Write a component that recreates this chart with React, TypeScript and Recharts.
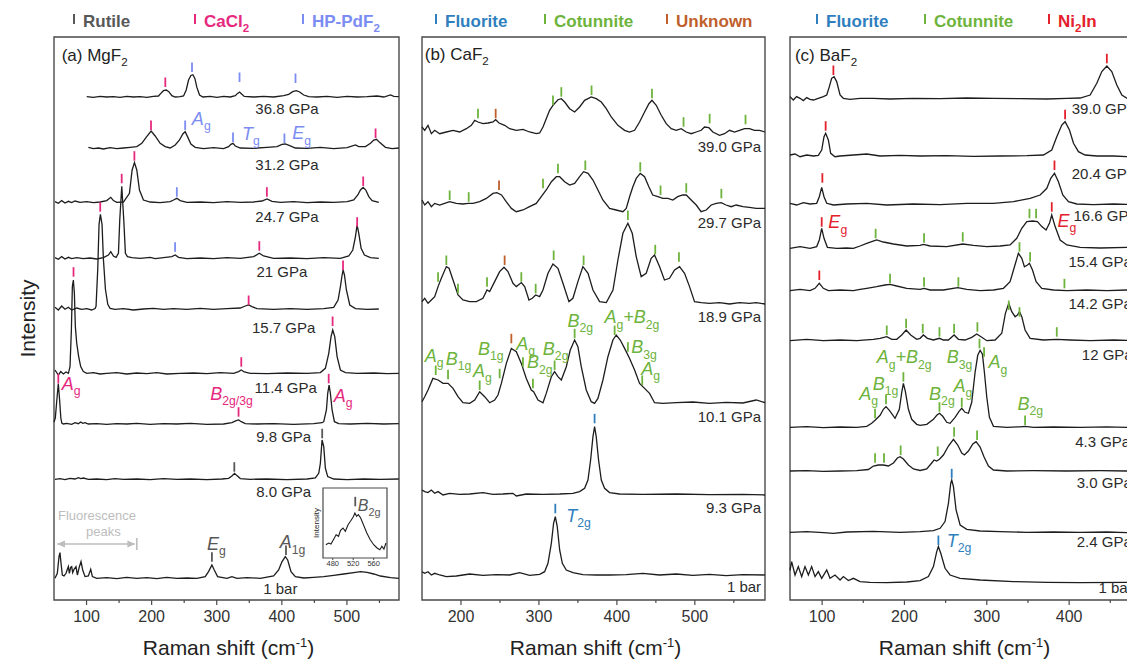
import React from 'react';
import { ComposedChart, Line, Scatter, XAxis, YAxis, ReferenceArea } from 'recharts';

type Pt = [number, number];
type Row = { x: number; v: number };

const FONT = '"Liberation Sans", Arial, Helvetica, sans-serif';
const INK = '#1d1d1d';
const FRAME = '#4a4a4a';
const C = {
  rut: '#585858',
  cacl: '#e6287e',
  hp: '#7b8cf2',
  flu: '#2f7fbe',
  cot: '#6db33c',
  unk: '#bf5f2c',
  ni: '#e4202b',
  fl: '#bdbdbd',
  txt: '#2a2a2a',
};

// ---------- (a) MgF2 ----------
const mgGpa = ['36.8 GPa', '31.2 GPa', '24.7 GPa', '21 GPa', '15.7 GPa', '11.4 GPa', '9.8 GPa', '8.0 GPa', '1 bar'];
const mgBase = [503.3, 451.7, 397.7, 341.7, 290.7, 226.7, 176, 120.7, 21.7];

const mg368: Pt[] = [[100.3,0],[110.5,-0.7],[120.8,0.3],[131,-0.3],[141.3,0],[151.5,-0.7],[161.8,0.3],[172,-0.3],[182.3,0],[192.6,-0.7],[202.8,0.3],[210.5,0.7],[214.1,3.3],[218.2,6],[222.3,6.7],[226.4,5],[231,1],[236.2,-0.3],[243.8,0],[249,0.7],[253.1,6.7],[256.7,16.7],[260.3,21.3],[263.3,22],[266.4,18.3],[269.5,9.3],[273.6,1.7],[278.7,-0.3],[290,0.3],[300.3,-0.7],[310.5,0.3],[320.8,-0.3],[328.5,1],[332.1,3.3],[335.1,4.7],[338.2,2.7],[342.3,0.3],[356.7,-0.3],[372,0.3],[387.4,-0.3],[402.8,1],[410.5,2.3],[416.7,5],[422.3,6],[427.4,4.7],[433.6,1.7],[441.3,0],[454.1,-0.3],[469.5,0.3],[484.9,-0.7],[500.3,0.3],[515.6,-0.3],[531,0],[546.4,0.7],[556.7,-0.3],[566.9,1.7],[572.1,0.3],[579.7,0]];
const mg312: Pt[] = [[102.8,1],[110.5,-0.3],[118.2,0.3],[125.9,-0.7],[136.2,0.7],[146.4,-0.3],[156.7,0.3],[166.9,1],[177.2,1.7],[184.9,5],[191.5,11],[199.2,17.3],[205.4,12.3],[213.1,5],[220.8,1.7],[228.5,0.3],[236.2,3.3],[242.8,8.3],[247.9,14.3],[251.5,16.7],[255.1,11.7],[260.3,4.3],[266.9,1],[279.7,-0.3],[295.1,0.7],[310.5,-0.3],[318.2,1.7],[321.8,4],[324.9,5],[328.5,2.3],[336.2,0.3],[356.7,0],[377.2,1],[392.6,1.7],[400.3,4],[405.4,4.3],[412.1,2.7],[420.8,0.3],[438.7,0],[459.2,1],[479.7,-0.3],[500.3,0.7],[513.1,3.3],[518.2,1.7],[528.5,1.7],[536.2,5],[541.3,8.3],[545.4,9],[550.5,5.7],[559.2,1],[569.5,-0.3],[579.7,0.3]];
const mg247: Pt[] = [[51.5,0.7],[56.7,-1],[61.8,1.7],[66.9,-0.7],[72.1,1],[77.2,-0.3],[82.3,1.3],[90,0],[100.3,0.7],[110.5,-0.3],[120.8,0.3],[131,1.7],[137.2,5],[141.3,1.7],[146.4,0],[156.7,0.3],[165.9,9],[170,32.3],[173.6,39.7],[177.2,32.3],[181.3,12.3],[187.4,2.3],[197.7,0.3],[213.1,-0.3],[228.5,0.7],[233.6,2.3],[238.7,4],[243.8,1.7],[254.1,0],[274.6,0.3],[295.1,-0.3],[315.6,0.7],[336.2,0],[356.7,0.3],[369.5,1.3],[377.2,3.3],[384.9,1],[397.7,0],[418.2,0.7],[438.7,-0.3],[459.2,0.3],[479.7,0],[500.3,0.7],[510.5,2.3],[516.7,7.3],[520.8,12.3],[524.9,15],[529,12.3],[533.6,5.7],[538.7,1.7],[549,0]];
const mg21: Pt[] = [[51.5,0.7],[56.7,-1],[61.8,1.7],[66.9,-0.7],[72.1,1],[77.2,-0.3],[84.9,0.7],[95.1,-0.3],[105.4,0.3],[115.6,-0.7],[125.9,0.7],[133.6,3.3],[137.2,6.7],[141.3,2.3],[145.4,1],[149,5],[151,38],[154.1,72],[157.2,38],[159.7,5],[162.8,1.7],[169.5,0.7],[182.3,0],[197.7,1],[205.4,-0.3],[218.2,0.7],[231,1.7],[236.2,3.3],[241.3,1],[254.1,-0.3],[274.6,0.3],[295.1,-0.3],[315.6,0.7],[336.2,0],[356.7,1.7],[365.4,5],[372,2.3],[387.4,0],[413.1,0.3],[438.7,-0.3],[464.4,0.7],[490,0],[502.8,2.3],[509,8.3],[513.1,21.7],[515.6,33.3],[518.2,25],[521.8,10],[526.9,3.3],[536.2,0.7],[549,0]];
const mg157: Pt[] = [[51.5,2],[56.7,-0.7],[61.8,3.3],[66.9,0],[72.1,2],[77.2,-0.7],[84.9,1.3],[92.6,0],[100.3,0.7],[107.9,-0.7],[113.1,0.7],[114.6,3],[117.2,40],[119.2,85],[121.3,95],[123.8,85],[125.9,50],[129,20],[132.6,5],[136.2,1],[143.8,0],[156.7,0.7],[172,-0.7],[187.4,0.3],[202.8,1],[218.2,0],[233.6,0.7],[254.1,0],[274.6,1],[295.1,0],[315.6,0.7],[336.2,1.3],[343.8,3.3],[349,4.3],[354.1,2.7],[361.8,0.7],[387.4,0],[413.1,0.7],[438.7,0],[464.4,0.7],[479.7,2],[486.4,9.3],[490,22.7],[492.6,34.3],[494.1,39.3],[496.2,34.3],[499.2,19.3],[504.4,4.3],[513.1,0.7],[531,0],[549,0.3]];
const mg114: Pt[] = [[51.5,3.3],[56.7,-1.7],[60.3,1.7],[64.4,-0.7],[68.5,1.3],[72.1,0],[74.6,6.7],[76.7,43.3],[78.2,86.7],[79.7,93.3],[81.3,80],[82.8,46.7],[84.9,30],[87.9,16.7],[91,6.7],[95.1,1.7],[100.3,0],[110.5,0.7],[120.8,-0.7],[131,0],[146.4,0.7],[161.8,-0.7],[177.2,0.3],[192.6,-0.3],[207.9,0.7],[223.3,-0.7],[243.8,0],[264.4,0.3],[284.9,-0.3],[305.4,0.7],[325.9,0],[333.6,1.7],[337.7,3.3],[342.3,1.3],[351.5,0],[377.2,-0.3],[407.9,0.3],[438.7,0],[459.2,0.7],[466.9,5],[472.1,20],[475.6,36.7],[478.2,43.3],[481.3,36.7],[484.9,16.7],[490,3.3],[497.7,0.7],[515.6,0],[541.3,0.3],[561.8,-0.3],[579.7,0]];
const mg98: Pt[] = [[50,2],[52,6],[54.5,25],[56.6,40.5],[58.5,25],[60.5,6],[62,1],[64.4,0],[69.5,0.7],[77.2,-0.3],[82.3,1.3],[87.4,0.3],[91,2],[94.1,0.7],[97.7,1.3],[102.8,0],[115.6,0.3],[131,-0.3],[146.4,0.3],[161.8,0],[177.2,0.7],[197.7,-0.3],[218.2,0.3],[238.7,0],[259.2,0.7],[284.9,-0.3],[310.5,0],[323.3,1.3],[330,3.3],[333.6,4],[337.7,2.3],[343.8,0.3],[361.8,0],[387.4,0.3],[418.2,-0.3],[449,0.3],[461.8,1.3],[464.4,2.3],[468.5,14],[470.5,30.7],[472.6,39],[474.6,30.7],[477.2,14],[480.8,2.3],[487.4,0.3],[505.4,0],[531,0.7],[556.7,0],[579.7,0.3]];
const mg80: Pt[] = [[51.5,0],[59.2,0.7],[66.9,-0.3],[74.6,1],[82.3,0.3],[87.4,1.7],[91,0.7],[95.1,1.3],[102.8,0],[115.6,0.3],[131,-0.3],[143.8,0.7],[156.7,0],[177.2,0.3],[197.7,-0.3],[218.2,0.7],[238.7,0],[259.2,0.3],[284.9,-0.3],[307.9,0.3],[318.2,1],[323.3,3.3],[327.4,6],[331,3.7],[336.2,0.7],[351.5,0],[377.2,0.3],[407.9,-0.3],[438.7,0.3],[451.5,1.3],[456.7,6],[459.2,16],[461.8,39.3],[464.4,32.7],[466.9,11],[470.5,2.7],[479.7,0.3],[500.3,-0.3],[525.9,0.3],[551.5,0],[579.7,0.3]];
const mg1bar: Pt[] = [[51.5,0],[55.1,5],[57.7,21.7],[59.2,25.7],[60.8,15],[62.8,3.3],[65.4,2.3],[68.5,5],[70.5,9],[72.1,11.7],[73.6,5],[75.6,11],[77.2,11.7],[78.7,5.7],[80.8,9],[83.8,11.7],[85.9,3.3],[89,11.7],[91.5,16.7],[94.1,8.3],[97.7,1.7],[102.8,2.3],[106.4,9],[109,1.7],[115.6,0],[131,0.7],[146.4,-0.3],[161.8,1],[177.2,0],[192.6,0.7],[207.9,-0.3],[223.3,1],[238.7,0],[254.1,0.3],[269.5,0],[282.3,1.7],[287.4,6.7],[292.6,13.3],[296.2,8.3],[301.3,1.7],[315.6,0],[323.3,1.7],[331,0],[346.4,0.7],[366.9,0],[387.4,2.3],[395.1,8.3],[400.3,16.7],[405.4,21.7],[409,18.3],[414.1,6.7],[420.8,1.7],[433.6,0.3],[449,1],[464.4,1.7],[479.7,3],[495.1,4.3],[510.5,5.7],[520.8,6.7],[531,6],[541.3,4.3],[551.5,2.3],[566.9,0.7],[579.7,0]];
const mgSpectra = [mg368, mg312, mg247, mg21, mg157, mg114, mg98, mg80, mg1bar];

const mgRutTicks: Pt[] = [[327,128.3],[462,161.7],[292.6,38.3],[406.4,45]];
const mgCaclTicks: Pt[] = [[221,513],[199,470],[544,462],[154,416.7],[173.5,439.3],[377,403.3],[525,414],[121,388.3],[365.4,349.3],[515.7,373.3],[80,323.3],[349,295],[494,330],[56.6,216.7],[337.7,233.3],[478,274],[333.5,183.3],[472,216.7]];
const mgHpTicks: Pt[] = [[262,528],[335,518],[421,517],[251.5,470],[325,458],[404,457],[238.7,403.3],[236,348.3]];

const mgGpaPos: Pt[] = [[408,485.7],[408,430],[408,378.3],[400,322.7],[402.8,266.7],[406,207.3],[402.8,158.3],[402.8,102.7],[397.7,5.7]];
const mgHpModes: [number, number, string][] = [[261.8,475,'A_g'],[339,460,'T_g'],[416,460.7,'E_g']];
const mgCaclModes: [number, number, string][] = [[61.8,210,'A_g'],[290,200,'B_2g/3g'],[479.7,198.3,'A_g']];
const mgRutModes: [number, number, string][] = [[285,50,'E_g'],[396.7,51.7,'A_1g']];
const mgFluoText: [number, number, string][] = [[116,80,'Fluorescence'],[126,64,'peaks']];

// inset of the 1 bar spectrum
const insetPts: Pt[] = [[466.6,13.3],[472,15],[476.6,14],[481.3,18.3],[486.6,23.3],[491.3,21.7],[495.3,27.7],[500,30],[504.6,26.7],[510,33.3],[514.6,36.7],[520,41],[523.3,45],[526.6,41.7],[530,43.3],[534.6,40],[540,33.3],[546.6,25],[553.3,18.3],[560,13.3],[566.6,10],[572,8.3],[576,11.7],[580,9],[584,15]];

// ---------- (b) CaF2 ----------
const caGpa = ['39.0 GPa', '29.7 GPa', '18.9 GPa', '10.1 GPa', '9.3 GPa', '1 bar'];
const caBase = [468, 393.3, 296.7, 197.3, 105.7, 25];

const ca390: Pt[] = [[150,5],[153.5,1.7],[157.7,6.7],[162,-1.7],[166.3,1.7],[172.7,-1.7],[181.2,0],[189.8,1.7],[198.3,0],[206.9,3.3],[213.3,6.7],[217.6,11.7],[221.8,10],[228.2,8.3],[234.7,9],[241.1,10],[244.5,12.3],[248.8,9],[256,6.7],[262.4,3.3],[271,1.7],[279.5,2.7],[288,0],[296.6,-1.7],[300.9,-1],[305.2,5],[309.4,13.3],[313.7,21.7],[318,26.7],[324.4,32.3],[328.7,33.3],[333,30],[339.4,23.3],[345.8,20],[352.2,25],[358.6,31.7],[367.1,35],[373.5,33.3],[380,30],[386.4,23.3],[392.8,15],[401.3,6.7],[409.9,1.7],[416.3,0],[422.7,1.7],[429.1,10],[435.5,20],[441.1,28.3],[445,31.7],[450.5,26.7],[456.9,16.7],[463.3,8.3],[469.7,3.3],[476.1,1.7],[482.5,3.3],[488.9,0],[495.3,-1.7],[501.8,0],[508.2,1.7],[512.4,5],[518,4.3],[523.1,0],[531.7,-3.3],[538.1,-1.7],[544.5,1.7],[550.9,0],[557.3,1.7],[563.7,3.3],[570.1,3.3],[576.5,1.7],[582.9,1.7],[590,0]];
const ca297: Pt[] = [[150,6.7],[153.5,1.7],[157.7,5],[162,0],[166.3,3.3],[172.7,1.7],[179,3.3],[185.5,5],[194,3.3],[202.6,2.7],[209,3.3],[215.4,3.3],[224,5],[232.5,8.3],[241,13.3],[246,14],[252,11.7],[258,5],[264.6,-1.7],[271,-5],[279.5,-3.3],[288,0],[296.6,3.3],[303,10],[309.4,16.7],[316,25],[322.3,30],[326.6,30],[333,25],[339.4,21.7],[345.8,23.3],[352.2,30],[357.3,35],[363,33.3],[369.3,26.7],[375.7,16.7],[382,6.7],[390.6,-1.7],[399,-3.3],[407.7,-5],[412,-1.7],[416.3,10],[420.5,20],[424.8,28.3],[430,33.3],[435.5,30],[441,20],[446,11.7],[452.6,10],[459,8.3],[465.4,8.3],[471.8,6.7],[478,10],[484.6,11.7],[489,11.7],[495.3,6.7],[501.8,1.7],[508,-5],[514.6,-3.3],[521,1.7],[527.4,3.3],[533.8,4],[540,1.7],[546.6,0],[553,1.7],[561.6,0],[570,-0.7],[578.7,-1.7],[590,-1.7]];
const ca189: Pt[] = [[150,1.7],[153.5,5],[157.7,0],[162,3.3],[166.3,6.7],[170.6,16.7],[174.8,25],[181.2,36.7],[184.7,35],[189.8,23.3],[196.2,8.3],[202.6,3.3],[211,1.7],[219.7,1.7],[228.2,5],[233.4,13.3],[236.8,11.7],[243.2,21.7],[249.6,31.7],[255.2,36],[260.3,31.7],[266.7,20],[271,16.7],[277.4,20.7],[281.7,16.7],[287.2,3.3],[291.5,5],[295.8,8.3],[300.9,6.7],[305.2,13.3],[311.6,30],[318,39.3],[324.4,35],[330.8,20],[338.5,1.7],[343.6,5],[350,21.7],[356.4,36.7],[363,30],[369.3,13.3],[377.8,1.7],[386.4,0.7],[395,13.3],[401.3,43.3],[407.7,70],[414.1,80],[419.7,70],[424.8,46.7],[431.2,26.7],[437.6,30],[444,45],[448.3,48.3],[454.7,36.7],[461,23.3],[467.5,25],[474,33.3],[480.4,36.7],[486.8,30],[493.2,16.7],[499.6,1.7],[508.2,0.7],[518.8,0],[531.7,0.7],[544.5,-0.7],[557.3,0.7],[570,0],[578.7,0.7],[590,-0.7]];
const ca101: Pt[] = [[150,1],[153.5,6],[157.7,12.7],[164,24.3],[170.6,22.7],[177,19.3],[183.4,19.3],[189.8,14.3],[196.2,6],[202.6,0],[211.2,-0.7],[217.6,2.7],[224,11],[230.4,6],[236.8,0],[243.2,2.7],[247.5,7.7],[251.8,19.3],[258.2,39.3],[264.6,54.3],[271,51],[277.4,39.3],[283.8,24.3],[290.2,12.7],[293.2,11],[298.8,2.7],[305.2,0],[309.4,9.3],[315.9,26],[320.1,31],[324.4,26],[328.7,22.7],[335.1,36],[340.2,52.7],[345.8,62.7],[350,56],[354.3,36],[360.7,12.7],[367.1,1],[371.4,-0.7],[375.7,4.3],[382.1,22.7],[388.5,46],[394.9,62.7],[399.2,67.7],[404.3,62.7],[409.9,54.3],[416.3,44.3],[422.7,32.7],[429.1,19.3],[435.5,14.3],[441.9,9.3],[448.3,0],[459,-0.7],[476,0],[497.5,0.7],[518.8,-0.7],[540.2,0.3],[561.6,-0.3],[578.7,2.7],[590,0]];
const ca093: Pt[] = [[150,4.3],[153.5,2.7],[157.7,1.7],[162,4.3],[166.3,1],[170.6,2.7],[177,-0.7],[185.5,1],[198.3,0],[211.2,0.3],[228.2,1.7],[241,0],[253.9,0.3],[266.7,1],[271,-1.7],[283.8,0.3],[305.2,0],[326.6,0.3],[343.6,1],[352.2,2.7],[358.6,6],[362.9,14.3],[366.3,34.3],[369.3,57.7],[371.4,67.7],[373.5,57.7],[376.5,34.3],[380,14.3],[384.2,6],[390.6,1.7],[403.4,0.3],[433.4,0],[476.1,0.3],[518.8,-0.3],[561.6,0],[590,-0.7]];
const ca1bar: Pt[] = [[150,3.3],[153.5,1.7],[157.7,3.3],[162,0],[166.3,1.7],[172.7,0],[181.2,-1.7],[194,-1],[211.2,1],[228.2,-0.3],[245.4,0.3],[262.4,0],[275.2,2.3],[288,-0.3],[300.9,0.7],[307.3,3.3],[311.6,11.7],[315.9,31.7],[318.8,51.7],[321,58.3],[323.5,48.3],[326.6,25],[330,11.7],[335.1,5],[343.6,2.3],[356.4,0.3],[373.5,0],[390.6,0],[412,0.3],[433.4,1.7],[454.7,0],[476.1,1],[497.5,-0.3],[518.8,0.7],[540.2,-0.7],[561.6,0.3],[590,0]];
const caSpectra = [ca390, ca297, ca189, ca101, ca093, ca1bar];

const caFluTicks: Pt[] = [[371.4,176.7],[321,86.7]];
const caCotTicks: Pt[] = [[221.8,481.7],[318,495],[328.7,503.3],[367.5,505],[445,501.7],[485.5,473.3],[519,476.7],[565,475.7],[185.5,400],[209.9,398.3],[305.2,411.7],[324.4,426.7],[359.5,430],[430,428.3],[456,405],[489,407.3],[534,401.7],[170.6,318.3],[181.2,335],[196.2,306.7],[233.4,313.3],[277.4,318.3],[295.8,306.7],[318.9,340],[357.3,335],[414.1,380],[449.2,345.7],[479.6,338.3],[167.6,225],[183.4,220.7],[224,210],[249.6,221.7],[279.5,233.3],[292.3,211.7],[320.1,230],[345.8,261.7],[397.1,265],[414.1,248.3],[432.5,215]];
const caUnkTicks: Pt[] = [[244.5,481.7],[248.8,410],[256,335],[264.6,256.7]];

const caGpaPos: Pt[] = [[585,448.3],[585,372],[585,278.3],[585,178.3],[585,87.3],[585,8.3]];
const caCotModes: [number, number, string][] = [[153.5,238.3,'A_g'],[180.4,235,'B_1g'],[221.8,245,'B_1g'],[215.4,223.3,'A_g'],[271,250,'A_g'],[284.7,231.7,'B_2g'],[305,245,'B_2g'],[336.5,273.3,'B_2g'],[384,276.7,'A_g+B_2g'],[418.4,246.7,'B_3g'],[431.2,225,'A_g']];
const caFluModes: [number, number, string][] = [[335,78.3,'T_2g']];

// ---------- (c) BaF2 ----------
const baGpa = ['39.0 GPa', '20.4 GPa', '16.6 GPa', '15.4 GPa', '14.2 GPa', '12 GPa', '4.3 GPa', '3.0 GPa', '2.4 GPa', '1 bar'];
const baBase = [501.7, 444, 396, 352.7, 310, 260, 172.7, 129, 67.7, 17.7];

const ba390: Pt[] = [[61,1.7],[65,-1.7],[69.1,1.7],[73.2,0],[77.2,-2.3],[81.3,0.7],[85.3,-1],[89.4,-1.7],[95.4,0],[101.5,1.7],[105.6,3.3],[108.8,11.7],[111.6,20],[114.5,21.7],[117.7,16.7],[121.8,3.3],[125.8,0],[133.9,-1],[146.1,0],[162.3,0],[182.5,-0.7],[210.9,0],[243.3,-0.3],[275.7,0.3],[308.1,0],[340.5,-0.3],[372.9,-0.7],[397.2,0],[413.4,0.3],[425.5,3.3],[433.6,15],[439.7,26.7],[445.8,32.3],[451.8,26.7],[457.9,13.3],[464,3.3],[470.5,0],[480,0]];
const ba204: Pt[] = [[61,1],[67.1,2],[73.2,-0.7],[81.3,1],[89.4,0],[95.4,0.7],[99.5,6],[102.3,19.3],[104.3,22.7],[107.6,16],[110.4,2.7],[115.7,-0.7],[121.8,0],[138,1],[154.2,2],[170.4,0],[194.7,0.7],[219,0],[251.4,0.3],[283.8,-0.3],[316.2,0],[348.6,0.3],[368.8,1],[378.9,6],[385,19.3],[391.1,31],[395.1,34.3],[400.4,26],[405.3,12.7],[411.3,4.3],[419.4,1],[433.6,0],[453.9,0],[470.5,-0.7],[480,0]];
const ba166: Pt[] = [[61,0.7],[69.1,-1],[77.2,1.3],[85.3,0],[93.4,0.7],[96.6,7.3],[99.5,16.7],[102.3,7.3],[105.6,0.7],[113.7,-1],[129.9,0],[154.2,0.7],[178.5,-1],[210.9,0],[243.3,-0.7],[275.7,0.7],[308.1,0.7],[332.4,2.3],[352.6,5.7],[364.8,9],[372.9,15.7],[377.7,25.7],[382.2,30.7],[387,22.3],[392.3,9],[399.2,2.3],[409.3,0],[429.6,-0.7],[453.9,0],[470.5,-0.3],[480,0]];
const ba154: Pt[] = [[61,-1],[73.2,0.7],[85.3,-1],[93.4,0.7],[96.6,7.3],[99.5,19],[102.3,9],[106.4,0],[117.7,-1],[129.9,-0.7],[138,-1],[146.1,1.3],[154.2,4],[160.2,5.7],[166.3,7.3],[174.4,5.3],[186.6,3.3],[202.8,1.3],[219,2],[223,3],[231.1,1.3],[251.4,0.7],[270.8,3.3],[283.8,2],[300,0.7],[316.2,1.3],[328.3,2.3],[336.4,9],[342.5,19],[348.6,25.7],[355.5,26.3],[361.5,25.7],[366.8,20.7],[372,17.3],[376.1,24],[378.9,32.3],[383,20.7],[389.1,7.3],[397.2,2.3],[413.4,0],[437.7,-0.7],[470.5,0],[480,0]];
const ba142: Pt[] = [[61,-0.7],[73.2,0.7],[85.3,-0.7],[91.4,1.7],[96.6,6.7],[101.5,1.7],[107.6,-0.7],[121.8,0],[138,-0.7],[146.1,0.7],[154.2,1.7],[166.3,3.3],[176.4,5],[182.5,5.7],[190.6,4],[202.8,1.7],[219,0.7],[223.8,1.7],[231.1,0],[247.3,0],[264.7,2.3],[275.7,0.7],[291.9,-0.7],[308.1,0],[320.2,1.7],[328.3,8.3],[333.6,23.3],[338.4,36.7],[342.5,31.7],[345.7,23.3],[349.4,25],[351.8,26.7],[355.5,20],[359.9,8.3],[366.8,1.7],[381,0],[397.2,-0.7],[421.5,0],[445.8,-0.7],[470.5,0],[480,0]];
const ba120: Pt[] = [[61,-0.7],[81.3,0.7],[101.5,-0.7],[121.8,0],[142,-0.7],[162.3,0.7],[170.4,1.7],[178.5,3.3],[184.5,0.7],[190.6,0.7],[196.7,5],[202,10],[207.6,5],[214.9,0.7],[219,1.7],[223,5],[227.9,1.7],[235.2,0],[242.5,1.7],[247.3,0],[253.4,0],[260.3,5],[265.5,0.7],[273.6,0],[281.7,2.7],[287.8,6],[293.9,2.7],[300,-0.7],[310.1,0],[318.2,6.7],[322.6,26.7],[326.7,36.7],[330.3,28.3],[334.4,23.3],[337.2,25],[339.7,28.3],[342.5,23.3],[346.5,10],[352.6,1.7],[368.8,0],[385,0.7],[401.2,0],[425.5,-0.7],[453.9,0],[470.5,-0.3],[480,0]];
const ba043: Pt[] = [[61,0],[81.3,0.7],[101.5,-0.3],[121.8,0.3],[142,0],[154.2,1],[160.2,4],[164.3,7],[170.4,12],[174.4,18],[177.6,20.7],[181.7,17],[188.6,9],[193.8,18],[196.7,35],[198.7,44],[201.1,36],[204.8,18],[208.8,8],[214.9,3],[219,2],[227.1,3],[235.2,8],[239.2,12],[242.5,14],[246.5,11],[251.4,5],[255.4,4],[261.5,10],[266.3,16],[269.6,19],[273.6,15],[277.7,14],[281.7,25],[285.8,55],[289,72],[291.9,77],[294.7,73],[297.1,55],[300,30],[303.2,10],[308.1,1],[324.3,0],[340.5,0.5],[346.5,1],[356.7,0],[381,0.3],[413.4,0],[445.8,0.5],[470.5,0],[480,0]];
const ba030: Pt[] = [[61,0],[81.3,0.3],[101.5,-0.3],[121.8,0],[142,0.3],[156.2,1.5],[162.3,5],[168.3,6],[174.4,6],[180.5,5],[186.6,8],[191.4,13],[194.7,14.3],[198.7,12],[204.8,6],[210.9,2],[219,0.5],[227.1,2],[233.1,8],[236,11],[239.2,10],[242.5,11.7],[247.3,16],[253.4,25],[259.5,31.7],[264.7,26],[269.6,18],[272.8,16],[277.7,20],[283,27],[287,29.3],[291.9,24],[296.7,14],[302,5],[308.1,1],[324.3,0],[356.7,0.3],[397.2,0],[437.7,0.3],[470.5,0],[480,0]];
const ba024: Pt[] = [[61,0],[81.3,0.7],[101.5,-0.3],[113.7,-1],[129.9,0.3],[162.3,1],[194.7,0],[219,0.7],[235.2,1.7],[243.3,4],[249.3,10.7],[253.4,29],[256.2,49],[257.4,52.3],[259.5,45.7],[262.7,22.3],[267.6,7.3],[275.7,3],[291.9,1.3],[316.2,0.7],[348.6,0],[381,0.3],[413.4,0],[445.8,0.3],[470.5,-0.3],[480,0]];
const ba1bar: Pt[] = [[61,12],[63,20.7],[67.1,7.3],[71.1,15.7],[75.2,5.7],[79.2,15.7],[83.3,7.3],[87.3,15.7],[91.4,5.7],[95.4,10.7],[99.5,4],[105.6,12.3],[109.6,4],[115.7,7.3],[121.8,2.3],[125.8,5.7],[131.9,1.7],[138,4],[146.1,0.7],[158.2,0],[178.5,-0.3],[202.8,0.3],[219,1.7],[229.1,5.7],[235.2,15.7],[239.2,30.7],[241.2,35.7],[244.1,29],[249.3,14],[255.4,7.3],[267.6,4],[291.9,2.3],[332.4,0.7],[372.9,0],[413.4,-0.3],[470.5,0],[480,0]];
const baSpectra = [ba390, ba204, ba166, ba154, ba142, ba120, ba043, ba030, ba024, ba1bar];

const baFluTicks: Pt[] = [[257.4,121.7],[241.2,55]];
const baCotTicks: Pt[] = [[165,361.7],[223.8,357.3],[270.8,358.3],[351.8,381.7],[359.9,381.7],[182.5,316.7],[223.8,313.3],[265.5,313.3],[339.7,348.3],[352.6,338.3],[394.3,311.7],[178.5,265],[202,271.7],[222.2,266.7],[242.5,263.3],[260.3,266.7],[288.6,268.3],[326.7,290],[339.7,283.3],[385,263.3],[164.3,181.7],[177.6,195.7],[198.7,218.3],[242.5,188.3],[269.6,192.7],[291.1,251.7],[296.7,243.3],[346.5,175],[164.3,137.3],[175.2,137.3],[195.4,145],[240.4,144],[260.3,163.3],[288.2,160]];
const baNiTicks: Pt[] = [[113.7,525],[445.8,536.7],[104.3,469.3],[395.1,480.7],[100.3,417.3],[382.2,430],[99.5,373.3],[378.9,388.3],[96.6,320]];

const baGpaPos: Pt[] = [[403.2,486],[403.2,420.7],[405.3,379.3],[399.2,333.3],[399.2,290.7],[415.4,240],[407.3,152.7],[409.3,111.7],[409.3,53.3],[435.6,6.7]];
const baNiModes: [number, number, string][] = [[107.6,371.7,'E_g'],[385.8,373,'E_g']];
const baCotModes: [number, number, string][] = [[166.3,236.7,'A_g+B_2g'],[251.4,236.7,'B_3g'],[302,231.7,'A_g'],[161.4,210,'B_1g'],[145.2,200,'A_g'],[229.9,200,'B_2g'],[259.5,208.3,'A_g'],[337.2,190,'B_2g']];
const baFluModes: [number, number, string][] = [[251.4,53.3,'T_2g']];

// ---------- helpers ----------
const toRows = (pts: Pt[], base: number): Row[] => pts.map(([x, h]) => ({ x, v: base + h }));

function Rich({ x, y, text, size, fill, anchor = 'start', italic = false, weight = 400 }: any) {
  const parts: string[] = text.split(/_([0-9a-z/]+)/);
  const drop = size * 0.3;
  let low = false;
  const spans: React.ReactNode[] = [];
  parts.forEach((p, i) => {
    if (!p) return;
    const isSub = i % 2 === 1;
    let dy = 0;
    if (isSub && !low) { dy = drop; low = true; }
    else if (!isSub && low) { dy = -drop; low = false; }
    spans.push(
      <tspan key={i} dy={dy} fontSize={isSub ? size * 0.68 : size} fontStyle={italic && !isSub ? 'italic' : 'normal'}>
        {p}
      </tspan>
    );
  });
  return (
    <text x={x} y={y} fill={fill} fontSize={size} fontFamily={FONT} fontWeight={weight} textAnchor={anchor}>
      {spans}
    </text>
  );
}

const AxisTick = (p: any) => {
  const y0 = p.y - 9;
  const major = p.payload.value % 100 === 0;
  return (
    <g>
      <line x1={p.x} x2={p.x} y1={y0} y2={y0 + (major ? 5 : 3)} stroke={FRAME} strokeWidth={1.2} />
      {major && (
        <text x={p.x} y={y0 + 22} textAnchor="middle" fontSize={16} fill="#333" fontFamily={FONT}>
          {p.payload.value}
        </text>
      )}
    </g>
  );
};

const XTitle = (p: any) => {
  const vb = p.viewBox || { x: 0, y: 0, width: 0 };
  return (
    <text x={vb.x + vb.width / 2 + 2} y={vb.y + 55} textAnchor="middle" fontSize={21} fill="#222" fontFamily={FONT}>
      Raman shift (cm<tspan dy={-8} fontSize={13}>-1</tspan><tspan dy={8}>)</tspan>
    </text>
  );
};

const YTitle = (p: any) => {
  const vb = p.viewBox || { y: 0, height: 0 };
  const cx = 27;
  const cy = vb.y + vb.height / 2;
  return (
    <text x={cx} y={cy} transform={`rotate(-90 ${cx} ${cy})`} textAnchor="middle" dominantBaseline="central" fontSize={21} fill="#222" fontFamily={FONT}>
      Intensity
    </text>
  );
};

const tickShape = (color: string) => (p: any) => (
  <line x1={p.cx} x2={p.cx} y1={p.cy} y2={p.cy - 9.5} stroke={color} strokeWidth={1.8} />
);

type NoteSet = { items: [number, number, string][]; size: number; fill: string; anchor?: string; italic?: boolean };

const noteShape = (s: NoteSet) => (p: any) => (
  <Rich x={p.cx} y={p.cy} text={p.payload.t} size={s.size} fill={s.fill} anchor={s.anchor} italic={s.italic} />
);

type PanelProps = {
  left: number;
  width: number;
  yw: number;
  mr: number;
  domain: [number, number];
  ticks: number[];
  spectra: Pt[][];
  bases: number[];
  marks: { color: string; pts: Pt[] }[];
  notes: NoteSet[];
  yTitle?: boolean;
  extra?: React.ReactNode[];
};

function Panel({ left, width, yw, mr, domain, ticks, spectra, bases, marks, notes, yTitle, extra }: PanelProps) {
  return (
    <div style={{ position: 'absolute', left, top: 0 }}>
      <ComposedChart width={width} height={660} margin={{ top: 37, right: mr, bottom: 0, left: 0 }}>
        <XAxis
          type="number"
          dataKey="x"
          domain={domain}
          ticks={ticks}
          interval={0}
          tick={<AxisTick />}
          tickLine={false}
          axisLine={false}
          tickSize={5}
          tickMargin={4}
          height={60}
          label={<XTitle />}
        />
        <YAxis
          type="number"
          dataKey="v"
          domain={[0, 563]}
          width={yw}
          tick={false}
          tickLine={false}
          axisLine={false}
          label={yTitle ? <YTitle /> : undefined}
        />
        <ReferenceArea x1={domain[0]} x2={domain[1]} y1={0} y2={563} fill="none" stroke={FRAME} strokeWidth={1.4} ifOverflow="visible" />
        {spectra.map((pts, i) => (
          <Line
            key={'s' + i}
            data={toRows(pts, bases[i])}
            dataKey="v"
            type="linear"
            dot={false}
            activeDot={false}
            stroke={INK}
            strokeWidth={1.3}
            isAnimationActive={false}
          />
        ))}
        {marks.map((m, i) => (
          <Scatter
            key={'m' + i}
            data={m.pts.map(([x, v]) => ({ x, v }))}
            dataKey="v"
            fill={m.color}
            shape={tickShape(m.color)}
            isAnimationActive={false}
          />
        ))}
        {notes.map((n, i) => (
          <Scatter
            key={'n' + i}
            data={n.items.map(([x, v, t]) => ({ x, v, t }))}
            dataKey="v"
            shape={noteShape(n)}
            isAnimationActive={false}
          />
        ))}
        {extra}
      </ComposedChart>
    </div>
  );
}

const arrowShape = (p: any) => {
  const d = p.payload.d;
  return <polygon points={`${p.cx},${p.cy} ${p.cx - d * 8},${p.cy - 3.5} ${p.cx - d * 8},${p.cy + 3.5}`} fill={C.fl} />;
};

function Inset() {
  return (
    <div style={{ position: 'absolute', left: 300, top: 480 }}>
      <ComposedChart width={90} height={95} margin={{ top: 8, right: 3, bottom: 0, left: 0 }}>
        <XAxis
          type="number"
          dataKey="x"
          domain={[461, 586]}
          ticks={[480, 520, 560]}
          interval={0}
          tick={{ fontSize: 7.5, fill: '#333', fontFamily: FONT }}
          tickSize={2}
          tickMargin={1}
          tickLine={{ stroke: FRAME }}
          axisLine={false}
          height={17}
        />
        <YAxis
          type="number"
          dataKey="v"
          domain={[0, 70]}
          width={23}
          tick={false}
          tickLine={false}
          axisLine={false}
          label={(p: any) => {
            const cx = 16.5;
            const cy = p.viewBox.y + p.viewBox.height / 2;
            return (
              <text x={cx} y={cy} transform={`rotate(-90 ${cx} ${cy})`} textAnchor="middle" dominantBaseline="central" fontSize={8} fill="#222" fontFamily={FONT}>
                Intensity
              </text>
            );
          }}
        />
        <ReferenceArea x1={461} x2={586} y1={0} y2={70} fill="#fff" stroke={FRAME} strokeWidth={1.2} ifOverflow="visible" />
        <Line data={toRows(insetPts, 0)} dataKey="v" type="linear" dot={false} activeDot={false} stroke={INK} strokeWidth={1.1} isAnimationActive={false} />
        <Scatter data={[{ x: 524, v: 51.7 }]} dataKey="v" shape={tickShape(C.rut)} isAnimationActive={false} />
        <Scatter
          data={[{ x: 529, v: 47, t: 'B_2g' }]}
          dataKey="v"
          shape={noteShape({ items: [], size: 16, fill: C.rut, italic: true })}
          isAnimationActive={false}
        />
      </ComposedChart>
    </div>
  );
}

const legendItems: { t: string; c: string; bar: number }[] = [
  { t: 'Rutile', c: C.rut, bar: 74 },
  { t: 'CaCl_2', c: C.cacl, bar: 195 },
  { t: 'HP-PdF_2', c: C.hp, bar: 303 },
  { t: 'Fluorite', c: C.flu, bar: 436 },
  { t: 'Cotunnite', c: C.cot, bar: 545 },
  { t: 'Unknown', c: C.unk, bar: 667 },
  { t: 'Fluorite', c: C.flu, bar: 817 },
  { t: 'Cotunnite', c: C.cot, bar: 925 },
  { t: 'Ni_2In', c: C.ni, bar: 1049 },
];

function TopLegend() {
  return (
    <svg width={1127} height={36} style={{ position: 'absolute', left: 0, top: 0 }}>
      {legendItems.map((it, i) => (
        <g key={i}>
          <line x1={it.bar} x2={it.bar} y1={14} y2={24} stroke={it.c} strokeWidth={2} />
          <Rich x={it.bar + 9} y={27} text={it.t} size={17} fill={it.c} weight={700} />
        </g>
      ))}
    </svg>
  );
}

const gpaNotes = (pos: Pt[], names: string[], anchor: string): NoteSet => ({
  items: pos.map(([x, v], i) => [x, v, names[i]] as [number, number, string]),
  size: 15,
  fill: '#2b2b2b',
  anchor,
});

export default function App() {
  const mgExtra = [
    <Line key="ar" data={[{ x: 55, v: 56 }, { x: 174, v: 56 }]} dataKey="v" dot={false} activeDot={false} stroke={C.fl} strokeWidth={1.6} isAnimationActive={false} />,
    <Line key="bar" data={[{ x: 177.2, v: 50 }, { x: 177.2, v: 62 }]} dataKey="v" dot={false} activeDot={false} stroke={C.fl} strokeWidth={1.6} isAnimationActive={false} />,
    <Scatter key="ah" data={[{ x: 54.5, v: 56, d: -1 }, { x: 175, v: 56, d: 1 }]} dataKey="v" shape={arrowShape} isAnimationActive={false} />,
  ];

  return (
    <div style={{ position: 'absolute', left: 0, top: 0, width: 1127, height: 660, overflow: 'hidden', background: '#fff' }}>
      <Panel
        left={0}
        width={420}
        yw={54}
        mr={21}
        domain={[50, 580]}
        ticks={[100, 150, 200, 250, 300, 350, 400, 450, 500, 550]}
        spectra={mgSpectra}
        bases={mgBase}
        yTitle
        marks={[
          { color: C.rut, pts: mgRutTicks },
          { color: C.cacl, pts: mgCaclTicks },
          { color: C.hp, pts: mgHpTicks },
        ]}
        notes={[
          { items: [[61.8, 539.3, '(a) MgF_2']], size: 17, fill: '#222' },
          gpaNotes(mgGpaPos, mgGpa, 'middle'),
          { items: mgHpModes, size: 18, fill: C.hp, italic: true },
          { items: mgCaclModes, size: 18, fill: C.cacl, italic: true },
          { items: mgRutModes, size: 18, fill: C.rut, italic: true },
          { items: mgFluoText, size: 13, fill: C.fl, anchor: 'middle' },
        ]}
        extra={mgExtra}
      />
      <Inset />
      <Panel
        left={405}
        width={380}
        yw={17}
        mr={20}
        domain={[150, 590]}
        ticks={[200, 250, 300, 350, 400, 450, 500, 550]}
        spectra={caSpectra}
        bases={caBase}
        marks={[
          { color: C.flu, pts: caFluTicks },
          { color: C.cot, pts: caCotTicks },
          { color: C.unk, pts: caUnkTicks },
        ]}
        notes={[
          { items: [[153.5, 540, '(b) CaF_2']], size: 17, fill: '#222' },
          gpaNotes(caGpaPos, caGpa, 'end'),
          { items: caCotModes, size: 18, fill: C.cot, italic: true },
          { items: caFluModes, size: 18, fill: C.flu, italic: true },
        ]}
      />
      <Panel
        left={775}
        width={380}
        yw={15}
        mr={20}
        domain={[61, 480]}
        ticks={[100, 150, 200, 250, 300, 350, 400, 450]}
        spectra={baSpectra}
        bases={baBase}
        marks={[
          { color: C.flu, pts: baFluTicks },
          { color: C.cot, pts: baCotTicks },
          { color: C.ni, pts: baNiTicks },
        ]}
        notes={[
          { items: [[67, 539.3, '(c) BaF_2']], size: 17, fill: '#222' },
          gpaNotes(baGpaPos, baGpa, 'start'),
          { items: baNiModes, size: 18, fill: C.ni, italic: true },
          { items: baCotModes, size: 18, fill: C.cot, italic: true },
          { items: baFluModes, size: 18, fill: C.flu, italic: true },
        ]}
      />
      <TopLegend />
    </div>
  );
}
